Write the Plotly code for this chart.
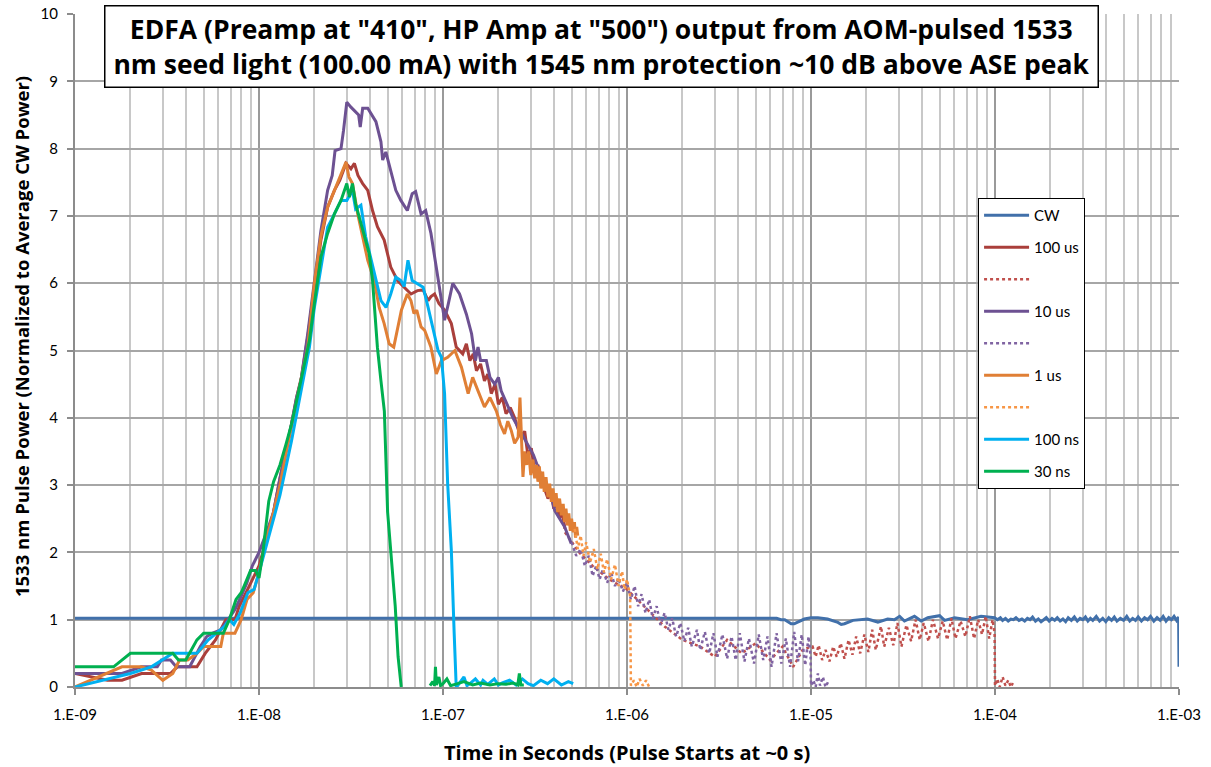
import plotly.graph_objects as go

# ---------------- data ----------------
CW_t = [1e-9, 6.5e-6, 6.87e-6, 7.2e-6, 7.8e-6, 8.1e-6, 9.2e-6, 1.0e-5, 1.09e-5, 1.23e-5, 1.4e-5, 1.46e-5,
        1.52e-5, 1.69e-5, 2.03e-5, 2.31e-5, 2.61e-5, 2.84e-5, 3.03e-5, 3.22e-5, 3.65e-5, 3.97e-5, 4.31e-5,
        5.0e-5, 5.32e-5, 6.03e-5, 7.1e-5, 8.4e-5, 9.95e-5,
        1.03e-4, 1.07e-4, 1.1e-4, 1.14e-4, 1.18e-4, 1.22e-4, 1.26e-4, 1.3e-4, 1.35e-4, 1.4e-4, 1.45e-4,
        1.5e-4, 1.55e-4, 1.6e-4, 1.66e-4, 1.72e-4, 1.78e-4, 1.84e-4, 1.9e-4, 1.97e-4, 2.04e-4, 2.11e-4,
        2.18e-4, 2.26e-4, 2.34e-4, 2.42e-4, 2.5e-4, 2.6e-4, 2.7e-4, 2.8e-4, 2.9e-4, 3.0e-4, 3.1e-4,
        3.2e-4, 3.3e-4, 3.4e-4, 3.55e-4, 3.7e-4, 3.85e-4, 4.0e-4, 4.15e-4, 4.3e-4, 4.45e-4, 4.6e-4,
        4.8e-4, 5.0e-4, 5.2e-4, 5.4e-4, 5.6e-4, 5.8e-4, 6.0e-4, 6.25e-4, 6.5e-4, 6.75e-4, 7.0e-4,
        7.3e-4, 7.6e-4, 7.9e-4, 8.2e-4, 8.5e-4, 8.8e-4, 9.1e-4, 9.4e-4, 9.7e-4, 9.95e-4, 1.0e-3]
CW_v = [1.02, 1.02, 1.0, 1.0, 0.94, 0.94, 1.01, 1.03, 1.03, 1.01, 0.96, 0.93,
        0.94, 0.99, 1.01, 0.965, 1.01, 1.0, 1.05, 0.98, 1.05, 0.98, 1.03,
        1.06, 0.99, 1.03, 1.0, 1.05, 1.03,
        1.0, 1.03, 0.99, 1.02, 0.98, 1.01, 1.0, 1.03, 0.99, 1.01, 0.98,
        1.02, 1.0, 1.04, 0.98, 1.01, 0.97, 1.0, 1.03, 0.98, 1.02, 0.99,
        1.03, 0.98, 1.01, 0.97, 1.03, 0.99, 1.04, 0.98, 1.02, 1.0, 1.04,
        0.98, 1.02, 0.99, 1.05, 0.98, 1.02, 0.97, 1.03, 0.99, 1.04, 0.98,
        1.02, 0.99, 1.05, 0.98, 1.02, 0.99, 1.04, 0.98, 1.03, 1.0, 1.05,
        0.98, 1.03, 0.99, 1.05, 0.98, 1.03, 1.0, 1.05, 0.99, 1.04, 0.3]

US100_t = [1e-9, 1.5e-9, 1.8e-9, 2.3e-9, 3.3e-9, 3.6e-9, 4.6e-9, 5.1e-9, 5.8e-9, 6.6e-9, 7.4e-9, 7.8e-9,
           8.5e-9, 9.2e-9, 1.0e-8, 1.1e-8, 1.2e-8, 1.3e-8, 1.4e-8, 1.5e-8, 1.6e-8, 1.7e-8, 1.84e-8, 2.0e-8,
           2.17e-8, 2.36e-8, 2.57e-8, 2.75e-8, 2.97e-8, 3.16e-8, 3.3e-8, 3.45e-8, 3.66e-8, 3.9e-8, 4.14e-8,
           4.4e-8, 4.79e-8, 5.2e-8, 5.66e-8, 6.15e-8, 6.7e-8, 7.26e-8, 7.8e-8, 8.3e-8, 8.6e-8, 9.0e-8,
           9.5e-8, 1.02e-7, 1.11e-7, 1.18e-7, 1.28e-7, 1.34e-7, 1.4e-7, 1.46e-7, 1.52e-7, 1.6e-7, 1.68e-7,
           1.75e-7, 1.83e-7, 1.92e-7, 2.0e-7, 2.1e-7, 2.2e-7, 2.32e-7, 2.45e-7, 2.55e-7, 2.66e-7, 2.78e-7,
           2.9e-7, 3.02e-7, 3.15e-7, 3.28e-7, 3.42e-7, 3.56e-7, 3.72e-7, 3.86e-7, 4.0e-7, 4.15e-7, 4.3e-7,
           4.45e-7, 4.6e-7]
US100_v = [0.2, 0.1, 0.1, 0.2, 0.2, 0.3, 0.3, 0.5, 0.7, 1.0, 1.0, 1.2,
           1.4, 1.6, 1.8, 2.2, 2.6, 3.1, 3.5, 3.9, 4.3, 4.6, 5.2, 5.94,
           6.64, 7.13, 7.38, 7.53, 7.78, 7.7, 7.78, 7.6, 7.48, 7.38, 7.08,
           6.84, 6.64, 6.24, 6.04, 5.94, 5.84, 5.89, 5.9, 5.74, 5.8, 5.84,
           5.7, 5.6, 5.4, 5.05, 4.95, 5.1, 4.85, 4.95, 4.7, 4.8, 4.55,
           4.65, 4.36, 4.5, 4.2, 4.3, 4.06, 4.15, 4.0, 3.85, 3.71, 3.8,
           3.42, 3.55, 3.2, 3.3, 3.12, 2.95, 2.8, 2.9, 2.65, 2.75, 2.5,
           2.6, 2.35]

US100D_t = [4.6e-7, 5.5e-7, 6.5e-7, 8e-7, 1e-6, 1.3e-6, 1.6e-6, 2e-6, 2.5e-6, 3e-6, 3.5e-6, 4.2e-6,
            5e-6, 6e-6, 7e-6, 8e-6, 9e-6, 1.0e-5, 1.02e-5, 1.06e-5, 1.1e-5, 1.15e-5, 1.2e-5, 1.26e-5,
            1.32e-5, 1.38e-5, 1.45e-5, 1.52e-5, 1.6e-5, 1.68e-5, 1.76e-5, 1.85e-5, 1.95e-5, 2.05e-5,
            2.15e-5, 2.25e-5, 2.4e-5, 2.5e-5, 2.65e-5, 2.8e-5, 2.95e-5, 3.1e-5, 3.3e-5, 3.5e-5, 3.7e-5,
            3.9e-5, 4.1e-5, 4.35e-5, 4.6e-5, 4.9e-5, 5.2e-5, 5.5e-5, 5.8e-5, 6.1e-5, 6.5e-5, 6.9e-5,
            7.3e-5, 7.7e-5, 8.1e-5, 8.5e-5, 8.9e-5, 9.3e-5, 9.7e-5, 9.95e-5, 1.0e-4, 1.03e-4, 1.06e-4,
            1.1e-4, 1.14e-4, 1.18e-4, 1.22e-4, 1.25e-4]
US100D_v = [2.3, 2.0, 1.8, 1.6, 1.45, 1.15, 0.9, 0.7, 0.6, 0.45, 0.7, 0.5,
            0.65, 0.4, 0.6, 0.3, 0.55, 0.6, 0.6, 0.45, 0.62, 0.4, 0.55, 0.38,
            0.6, 0.45, 0.65, 0.42, 0.7, 0.48, 0.75, 0.5, 0.78, 0.52,
            0.85, 0.55, 0.9, 0.6, 0.88, 0.62, 0.95, 0.6, 0.92, 0.68, 1.0,
            0.7, 0.95, 0.68, 1.0, 0.72, 0.98, 0.7, 1.02, 0.72, 0.98, 0.75,
            1.05, 0.72, 1.0, 0.78, 1.05, 0.72, 1.0, 0.8, 0.02, 0.12, 0.0,
            0.15, 0.02, 0.1, 0.0, 0.06]

US10_t = [1e-9, 1.8e-9, 2.3e-9, 2.8e-9, 2.95e-9, 3.3e-9, 3.55e-9, 4.2e-9, 4.8e-9, 5.2e-9, 5.6e-9, 6.2e-9,
          6.8e-9, 7.4e-9, 8.0e-9, 8.6e-9, 9.2e-9, 1.0e-8, 1.1e-8, 1.2e-8, 1.3e-8, 1.4e-8, 1.5e-8, 1.6e-8,
          1.69e-8, 1.84e-8, 2.0e-8, 2.17e-8, 2.36e-8, 2.5e-8, 2.59e-8, 2.79e-8, 2.88e-8, 3.0e-8, 3.15e-8,
          3.35e-8, 3.48e-8, 3.55e-8, 3.66e-8, 3.9e-8, 4.14e-8, 4.32e-8, 4.6e-8, 4.7e-8, 4.89e-8, 5.2e-8,
          5.54e-8, 5.9e-8, 6.4e-8, 6.8e-8, 7.1e-8, 7.6e-8, 8.05e-8, 8.6e-8, 9.3e-8, 9.6e-8, 1.02e-7,
          1.07e-7, 1.13e-7, 1.23e-7, 1.34e-7, 1.43e-7, 1.5e-7, 1.55e-7, 1.6e-7, 1.72e-7, 1.8e-7, 1.91e-7,
          2.0e-7, 2.07e-7, 2.15e-7, 2.25e-7, 2.4e-7, 2.56e-7, 2.7e-7, 2.9e-7, 3.1e-7, 3.28e-7, 3.5e-7,
          3.72e-7, 3.9e-7, 4.05e-7, 4.3e-7, 4.58e-7, 4.78e-7, 4.98e-7]
US10_v = [0.2, 0.2, 0.3, 0.3, 0.4, 0.4, 0.3, 0.3, 0.6, 0.75, 0.8, 0.85,
          1.0, 1.15, 1.35, 1.55, 1.8, 2.0, 2.3, 2.6, 3.1, 3.5, 3.9, 4.3,
          4.55, 5.25, 6.04, 6.78, 7.38, 7.6, 7.97, 8.0, 8.27, 8.69, 8.62,
          8.55, 8.5, 8.32, 8.6, 8.6, 8.47, 8.4, 8.1, 7.83, 7.95, 7.68,
          7.38, 7.23, 7.08, 7.33, 7.36, 7.03, 7.08, 6.74, 6.14, 5.89, 5.45,
          5.7, 6.0, 5.84, 5.54, 5.25, 4.85, 5.05, 4.85, 4.85, 4.6, 4.5,
          4.6, 4.4, 4.3, 4.16, 4.0, 3.86, 3.75, 3.61, 3.45, 3.27, 3.05,
          2.92, 2.8, 2.62, 2.5, 2.38, 2.25, 2.13]

US10D_t = [5.0e-7, 5.3e-7, 5.6e-7, 5.9e-7, 6.2e-7, 6.5e-7, 6.8e-7, 7.1e-7, 7.4e-7, 7.8e-7, 8.2e-7, 8.6e-7,
           9.0e-7, 9.5e-7, 1.0e-6, 1.05e-6, 1.1e-6, 1.15e-6, 1.2e-6, 1.26e-6, 1.32e-6, 1.38e-6, 1.45e-6,
           1.52e-6, 1.6e-6, 1.68e-6, 1.76e-6, 1.85e-6, 1.95e-6, 2.05e-6, 2.15e-6, 2.25e-6, 2.4e-6, 2.5e-6,
           2.65e-6, 2.8e-6, 2.95e-6, 3.1e-6, 3.3e-6, 3.5e-6, 3.7e-6, 3.9e-6, 4.1e-6, 4.35e-6, 4.6e-6,
           4.9e-6, 5.2e-6, 5.5e-6, 5.8e-6, 6.1e-6, 6.5e-6, 6.9e-6, 7.3e-6, 7.7e-6, 8.1e-6, 8.5e-6, 8.9e-6,
           9.3e-6, 9.7e-6, 9.95e-6, 1.0e-5, 1.03e-5, 1.06e-5, 1.09e-5, 1.12e-5, 1.16e-5, 1.2e-5, 1.24e-5]
US10D_v = [2.15, 1.95, 2.05, 1.8, 1.95, 1.65, 1.8, 1.6, 1.75, 1.55, 1.7, 1.5,
           1.62, 1.42, 1.55, 1.3, 1.5, 1.2, 1.38, 1.1, 1.3, 1.02, 1.2,
           0.92, 1.1, 0.85, 1.02, 0.75, 0.95, 0.68, 0.88, 0.6, 0.85, 0.55,
           0.82, 0.5, 0.8, 0.45, 0.78, 0.42, 0.75, 0.4, 0.8, 0.38, 0.72,
           0.35, 0.78, 0.4, 0.75, 0.3, 0.8, 0.35, 0.72, 0.3, 0.82, 0.38, 0.78,
           0.32, 0.75, 0.45, 0.02, 0.1, 0.0, 0.2, 0.02, 0.15, 0.0, 0.08]

US1_t = [1e-9, 1.8e-9, 2.3e-9, 2.6e-9, 3.0e-9, 3.4e-9, 3.7e-9, 4.1e-9, 4.6e-9, 5.0e-9, 6.2e-9, 6.4e-9,
         7.4e-9, 8.0e-9, 8.6e-9, 9.3e-9, 1.0e-8, 1.1e-8, 1.2e-8, 1.3e-8, 1.4e-8, 1.5e-8, 1.6e-8, 1.7e-8,
         1.84e-8, 2.0e-8, 2.17e-8, 2.36e-8, 2.57e-8, 2.75e-8, 2.9e-8, 2.97e-8, 3.08e-8, 3.22e-8, 3.44e-8,
         3.66e-8, 3.9e-8, 4.23e-8, 4.5e-8, 4.79e-8, 5.1e-8, 5.4e-8, 5.6e-8, 5.94e-8, 6.4e-8, 6.7e-8,
         6.95e-8, 7.2e-8, 7.6e-8, 7.95e-8, 8.6e-8, 9.2e-8, 9.8e-8, 1.06e-7, 1.16e-7, 1.26e-7, 1.37e-7,
         1.45e-7, 1.55e-7, 1.68e-7, 1.8e-7, 1.95e-7, 2.05e-7, 2.16e-7, 2.25e-7, 2.35e-7, 2.45e-7, 2.56e-7,
         2.62e-7, 2.72e-7, 2.78e-7, 2.85e-7, 2.92e-7, 3.0e-7, 3.08e-7, 3.15e-7, 3.22e-7, 3.28e-7, 3.34e-7,
         3.4e-7, 3.48e-7, 3.55e-7, 3.63e-7, 3.72e-7, 3.8e-7, 3.88e-7, 3.96e-7, 4.05e-7, 4.12e-7, 4.2e-7,
         4.3e-7, 4.4e-7, 4.5e-7, 4.58e-7, 4.66e-7, 4.75e-7, 4.83e-7, 4.92e-7, 5.0e-7, 5.1e-7, 5.18e-7,
         5.25e-7, 5.33e-7, 5.4e-7]
US1_v = [0.0, 0.3, 0.3, 0.25, 0.1, 0.2, 0.4, 0.4, 0.5, 0.6, 0.6, 0.8,
         0.8, 1.0, 1.3, 1.4, 1.7, 2.2, 2.6, 3.0, 3.45, 3.85, 4.25, 4.6,
         5.05, 6.0, 6.7, 7.13, 7.38, 7.58, 7.73, 7.8, 7.58, 7.48, 7.03,
         6.69, 6.34, 6.04, 5.64, 5.4, 5.1, 5.05, 5.25, 5.6, 5.84, 5.74,
         5.55, 5.6, 5.35, 5.3, 5.05, 4.65, 4.85, 4.9, 5.0, 4.75, 4.36,
         4.6, 4.4, 4.16, 4.3, 4.1, 3.9, 3.76, 3.95, 3.81, 3.62, 3.71,
         4.3, 3.12, 3.5, 3.3, 3.5, 3.15, 3.38, 3.1, 3.3, 3.05, 3.28,
         2.95, 3.2, 2.9, 3.12, 2.82, 3.02, 2.75, 2.95, 2.68, 2.88, 2.6,
         2.8, 2.55, 2.72, 2.45, 2.65, 2.4, 2.58, 2.32, 2.5, 2.3, 2.45,
         2.22, 2.38, 2.25]

US1D_t = [5.2e-7, 5.4e-7, 5.6e-7, 5.8e-7, 6.0e-7, 6.3e-7, 6.6e-7, 6.9e-7, 7.2e-7, 7.5e-7, 7.8e-7, 8.2e-7,
          8.6e-7, 9.0e-7, 9.4e-7, 9.7e-7, 1.0e-6, 1.04e-6, 1.05e-6, 1.09e-6, 1.13e-6, 1.17e-6, 1.22e-6,
          1.27e-6, 1.32e-6]
US1D_v = [2.35, 2.05, 2.25, 1.95, 2.15, 1.85, 2.05, 1.75, 1.98, 1.7, 1.9, 1.6,
          1.82, 1.5, 1.72, 1.45, 1.6, 1.35, 0.02, 0.1, 0.0, 0.12, 0.02,
          0.1, 0.0]

NS100_t = [1e-9, 2.0e-9, 2.6e-9, 3.4e-9, 4.6e-9, 5.3e-9, 6.5e-9, 6.9e-9, 7.3e-9, 7.9e-9, 8.7e-9, 9.4e-9,
           1.0e-8, 1.1e-8, 1.2e-8, 1.3e-8, 1.4e-8, 1.5e-8, 1.6e-8, 1.75e-8, 1.88e-8, 2.0e-8, 2.17e-8,
           2.36e-8, 2.57e-8, 2.79e-8, 3.0e-8, 3.22e-8, 3.35e-8, 3.58e-8, 3.8e-8, 4.0e-8, 4.32e-8, 4.6e-8,
           4.9e-8, 5.2e-8, 5.54e-8, 5.9e-8, 6.15e-8, 6.45e-8, 6.8e-8, 7.26e-8, 7.8e-8, 8.3e-8, 8.8e-8,
           9.4e-8, 9.8e-8, 1.02e-7, 1.06e-7, 1.11e-7, 1.15e-7, 1.18e-7,
           1.2e-7, 1.3e-7, 1.35e-7, 1.4e-7, 1.5e-7, 1.6e-7, 1.65e-7, 1.75e-7, 1.9e-7, 2.0e-7, 2.1e-7,
           2.3e-7, 2.5e-7, 2.7e-7, 2.9e-7, 3.1e-7, 3.4e-7, 3.7e-7, 4.0e-7, 4.4e-7, 4.8e-7, 5.1e-7]
NS100_v = [0.0, 0.2, 0.3, 0.5, 0.5, 0.7, 0.9, 1.0, 0.93, 1.1, 1.4, 1.45,
           1.7, 2.1, 2.5, 2.85, 3.25, 3.65, 4.05, 4.6, 5.05, 5.64, 6.24,
           6.83, 7.03, 7.23, 7.23, 7.38, 7.1, 7.16, 6.69, 6.44, 6.04, 5.74,
           5.64, 5.84, 6.09, 6.04, 5.95, 6.34, 6.04, 5.99, 5.94, 5.64, 5.35,
           5.0, 4.9, 4.36, 3.02, 2.03, 0.8, 0.0,
           0.02, 0.15, 0.02, 0.05, 0.12, 0.03, 0.1, 0.04, 0.12, 0.03, 0.06,
           0.1, 0.03, 0.12, 0.05, 0.02, 0.1, 0.05, 0.12, 0.03, 0.08, 0.05]

NS30_t = [1e-9, 1.62e-9, 2.0e-9, 3.4e-9, 3.65e-9, 4.0e-9, 4.6e-9, 5.0e-9, 6.4e-9, 6.9e-9, 7.5e-9, 8.0e-9,
          8.3e-9, 9.0e-9, 9.6e-9, 1.0e-8, 1.05e-8, 1.08e-8, 1.13e-8, 1.2e-8, 1.3e-8, 1.4e-8, 1.5e-8,
          1.6e-8, 1.73e-8, 1.88e-8, 2.0e-8, 2.17e-8, 2.36e-8, 2.57e-8, 2.79e-8, 2.9e-8, 3.0e-8, 3.1e-8,
          3.22e-8, 3.35e-8, 3.58e-8, 3.75e-8, 3.97e-8, 4.14e-8, 4.25e-8, 4.4e-8, 4.6e-8, 4.8e-8, 5.0e-8,
          5.2e-8, 5.5e-8, 5.7e-8, 5.93e-8, 7.0e-8,
          8.5e-8, 8.8e-8, 9.0e-8, 9.1e-8, 9.2e-8, 9.5e-8, 9.7e-8, 1.0e-7, 1.05e-7, 1.1e-7, 1.2e-7,
          1.3e-7, 1.45e-7, 1.6e-7, 1.8e-7, 2.0e-7, 2.2e-7, 2.4e-7, 2.55e-7, 2.6e-7, 2.65e-7, 2.75e-7]
NS30_v = [0.3, 0.3, 0.5, 0.5, 0.4, 0.4, 0.7, 0.8, 0.8, 1.0, 1.3, 1.4,
          1.5, 1.73, 1.73, 1.62, 2.0, 2.3, 2.76, 3.05, 3.3, 3.6, 3.9,
          4.25, 4.7, 5.15, 5.7, 6.39, 6.74, 7.03, 7.23, 7.38, 7.48, 7.28,
          7.48, 7.18, 6.89, 6.69, 6.44, 6.04, 5.64, 5.05, 4.55, 4.1, 2.6,
          2.0, 1.2, 0.45, 0.0, None,
          0.02, 0.08, 0.02, 0.3, 0.03, 0.15, 0.02, 0.05, 0.12, 0.02, 0.05,
          0.08, 0.03, 0.06, 0.03, 0.05, 0.04, 0.06, 0.03, 0.2, 0.03, 0.03]

X_TICKS = [1e-9, 1e-8, 1e-7, 1e-6, 1e-5, 1e-4, 1e-3]
X_TICKTEXT = ["1.E-09", "1.E-08", "1.E-07", "1.E-06", "1.E-05", "1.E-04", "1.E-03"]
Y_TICKS = list(range(0, 11))

TITLE_LINES = ['EDFA (Preamp at "410", HP Amp at "500") output from AOM-pulsed 1533',
               'nm seed light (100.00 mA) with 1545 nm protection ~10 dB above ASE peak']
X_TITLE = "Time in Seconds (Pulse Starts at ~0 s)"
Y_TITLE = "1533 nm Pulse Power (Normalized to Average CW Power)"

# ---------------- figure ----------------
FONT = "Lato, 'Open Sans', sans-serif"
BOLD = "'Open Sans', Lato, sans-serif"

series = [
    ("CW", CW_t, CW_v, "#4170AA", "solid"),
    ("100 us", US100_t, US100_v, "#AA3F3B", "solid"),
    (" ", US100D_t, US100D_v, "#C0504D", "dot"),
    ("10 us", US10_t, US10_v, "#6D5192", "solid"),
    ("  ", US10D_t, US10D_v, "#8064A2", "dot"),
    ("1 us", US1_t, US1_v, "#E07F35", "solid"),
    ("   ", US1D_t, US1D_v, "#F79646", "dot"),
    ("100 ns", NS100_t, NS100_v, "#00B0F0", "solid"),
    ("30 ns", NS30_t, NS30_v, "#00B050", "solid"),
]

fig = go.Figure()
for i, (name, t, v, col, dash) in enumerate(series):
    fig.add_trace(go.Scatter(
        x=t, y=v, name=name, mode="lines", legendgroup=f"g{i}",
        line=dict(color=col, width=3 if dash == "solid" else 2.5, dash=dash),
        connectgaps=False,
    ))

minor_vals = [m * 10 ** e for e in range(-9, -3) for m in range(2, 10)]

fig.update_layout(
    width=1211, height=767,
    margin=dict(l=75, r=32, t=14, b=80),
    paper_bgcolor="white", plot_bgcolor="white",
    font=dict(family=FONT, size=15, color="black"),
    showlegend=True,
    legend=dict(
        x=0.818, y=0.7266, xanchor="left", yanchor="top",
        bgcolor="white", bordercolor="black", borderwidth=1,
        font=dict(family=FONT, size=15, color="black"),
        tracegroupgap=9.5, itemwidth=45,
    ),
    xaxis=dict(
        type="log", range=[-9, -3], automargin=False,
        tickmode="array", tickvals=X_TICKS, ticktext=X_TICKTEXT,
        showgrid=True, gridcolor="#9A9A9A", gridwidth=2,
        showline=True, linecolor="#8C8C8C", linewidth=2,
        ticks="outside", ticklen=6, tickcolor="#8C8C8C", tickwidth=2,
        ticklabelstandoff=7, ticklabeloverflow="allow",
        tickfont=dict(family=FONT, size=15, color="black"),
        minor=dict(tickmode="array", tickvals=minor_vals, showgrid=True,
                   gridcolor="#C8C8C8", gridwidth=1.5, ticks=""),
        zeroline=False,
    ),
    yaxis=dict(
        range=[0, 10], tickmode="array", tickvals=Y_TICKS, automargin=False,
        showgrid=True, gridcolor="#A6A6A6", gridwidth=1.5,
        showline=True, linecolor="#8C8C8C", linewidth=2,
        ticks="outside", ticklen=6, tickcolor="#8C8C8C", tickwidth=2,
        ticklabelstandoff=6, ticklabeloverflow="allow",
        tickfont=dict(family=FONT, size=15, color="black"),
        zeroline=False,
    ),
    annotations=[
        dict(
            text="<br>".join("<b>" + s + "</b>" for s in TITLE_LINES),
            xref="paper", yref="paper", x=0.477, y=0.952,
            xanchor="center", yanchor="middle", showarrow=False,
            font=dict(family=BOLD, size=26.5, color="black"),
            bgcolor="white", bordercolor="black", borderwidth=1.5,
            width=990, height=78, borderpad=1,
        ),
        dict(
            text="<b>" + X_TITLE + "</b>",
            xref="paper", yref="paper", x=0.5, y=0, yshift=-65,
            xanchor="center", yanchor="middle", showarrow=False,
            font=dict(family=BOLD, size=20, color="black"),
        ),
        dict(
            text="<b>" + Y_TITLE + "</b>",
            xref="paper", yref="paper", x=0, xshift=-54, y=0.52,
            xanchor="center", yanchor="middle", showarrow=False, textangle=-90,
            font=dict(family=BOLD, size=18.5, color="black"),
        ),
    ],
)

fig.write_html("out.html", config={"displayModeBar": False},
               post_script="document.body.style.margin='0';document.body.style.overflow='hidden';")
